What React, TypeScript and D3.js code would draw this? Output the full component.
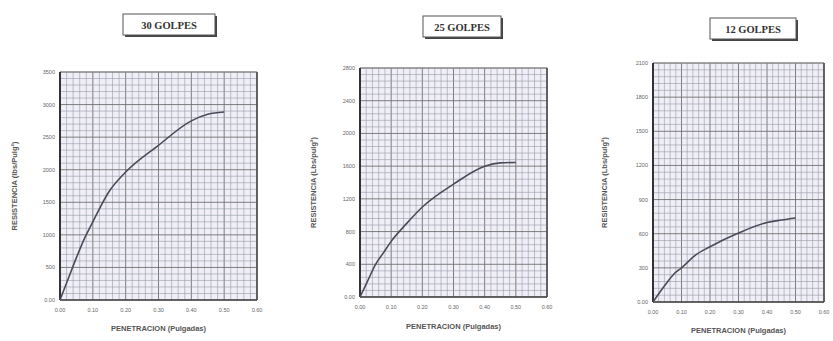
import React from "react";
import * as d3 from "d3";

// ---- data ----
const penetration = [0, 0.025, 0.05, 0.075, 0.1, 0.15, 0.2, 0.3, 0.4, 0.45, 0.5];
const resist30 = [0, 325, 650, 950, 1200, 1670, 1965, 2375, 2750, 2850, 2885];
const resist25 = [0, 200, 400, 540, 680, 900, 1100, 1380, 1600, 1640, 1645];
const resist12 = [0, 90, 174, 250, 300, 414, 486, 606, 699, 720, 738];

const xTicks = [0, 0.1, 0.2, 0.3, 0.4, 0.5, 0.6];
const xTickLabels = ["0.00", "0.10", "0.20", "0.30", "0.40", "0.50", "0.60"];
const yTicks30 = [0, 500, 1000, 1500, 2000, 2500, 3000, 3500];
const yTicks25 = [0, 400, 800, 1200, 1600, 2000, 2400, 2800];
const yTicks12 = [0, 300, 600, 900, 1200, 1500, 1800, 2100];

const titles = ["30 GOLPES", "25 GOLPES", "12 GOLPES"];
const yTitles = ["RESISTENCIA (lbs/Pulg²)", "RESISTENCIA (Lbs/pulg²)", "RESISTENCIA (Lbs/pulg²)"];
const xTitle = "PENETRACION (Pulgadas)";

type Layout = {
  l: number; r: number; t: number; b: number;
  bx: number; by: number; bw: number; bh: number;
  ytx: number; xty: number;
};

const layouts: Layout[] = [
  { l: 60, r: 257, t: 72, b: 300, bx: 123, by: 14, bw: 92, bh: 21, ytx: 17, xty: 331 },
  { l: 360, r: 547, t: 68, b: 297, bx: 423, by: 16, bw: 78, bh: 21, ytx: 316, xty: 329 },
  { l: 653, r: 824, t: 63, b: 302, bx: 710, by: 18, bw: 86, bh: 21, ytx: 607, xty: 333 },
];

function Panel({ lay, values, yTicks, title, yTitle }: { lay: Layout; values: number[]; yTicks: number[]; title: string; yTitle: string }) {
  const x = d3.scaleLinear().domain([0, 0.6]).range([lay.l, lay.r]);
  const y = d3.scaleLinear().domain([0, yTicks[yTicks.length - 1]]).range([lay.b, lay.t]);
  const minorX = d3.range(0, 31).map((i) => (i * 0.6) / 30);
  const yMax = yTicks[yTicks.length - 1];
  const minorY = d3.range(0, 36).map((i) => (i * yMax) / 35);
  const line = d3
    .line<number>()
    .x((_, i) => x(penetration[i]))
    .y((d) => y(d))
    .curve(d3.curveMonotoneX);
  const fmtY = (v: number) => (v === 0 ? "0.00" : String(v));
  const cx = (lay.l + lay.r) / 2;
  const cy = (lay.t + lay.b) / 2;
  return (
    <g>
      {/* title box */}
      <rect x={lay.bx + 2} y={lay.by + 2} width={lay.bw} height={lay.bh} fill="#444" />
      <rect x={lay.bx} y={lay.by} width={lay.bw} height={lay.bh} fill="#fff" stroke="#555" strokeWidth={1} />
      <text x={lay.bx + lay.bw / 2} y={lay.by + lay.bh / 2 + 4} textAnchor="middle" fontFamily="Liberation Serif, serif" fontWeight="bold" fontSize={10.5} fill="#333">
        {title}
      </text>
      {/* plot background */}
      <rect x={lay.l} y={lay.t} width={lay.r - lay.l} height={lay.b - lay.t} fill="#f0eff7" />
      {minorX.map((v, i) => (
        <line key={"gx" + i} x1={x(v)} x2={x(v)} y1={lay.t} y2={lay.b} stroke={i % 5 === 0 ? "#707070" : "#959aa6"} strokeWidth={i % 5 === 0 ? 0.9 : 0.6} />
      ))}
      {minorY.map((v, i) => (
        <line key={"gy" + i} x1={lay.l} x2={lay.r} y1={y(v)} y2={y(v)} stroke={i % 5 === 0 ? "#707070" : "#959aa6"} strokeWidth={i % 5 === 0 ? 0.9 : 0.6} />
      ))}
      {/* frame */}
      <line x1={lay.l} x2={lay.r} y1={lay.t} y2={lay.t} stroke="#888" strokeWidth={1} />
      <line x1={lay.l} x2={lay.l} y1={lay.t} y2={lay.b} stroke="#333" strokeWidth={2} />
      <line x1={lay.r} x2={lay.r} y1={lay.t} y2={lay.b} stroke="#444" strokeWidth={1.5} />
      <line x1={lay.l} x2={lay.r} y1={lay.b} y2={lay.b} stroke="#444" strokeWidth={1.5} />
      {/* curve */}
      <path d={line(values) || ""} fill="none" stroke="#4a4a5a" strokeWidth={1.6} />
      {/* y ticks */}
      {yTicks.map((v, i) => (
        <text key={"yt" + i} x={lay.l - 5} y={y(v) + 2} textAnchor="end" fontFamily="Liberation Sans, Arial, sans-serif" fontSize={5.5} fill="#666">
          {fmtY(v)}
        </text>
      ))}
      {/* x ticks */}
      {xTicks.map((v, i) => (
        <text key={"xt" + i} x={x(v)} y={lay.b + 12} textAnchor="middle" fontFamily="Liberation Sans, Arial, sans-serif" fontSize={5.5} fill="#666">
          {xTickLabels[i]}
        </text>
      ))}
      <text x={cx} y={lay.xty} textAnchor="middle" fontFamily="Liberation Sans, Arial, sans-serif" fontSize={7.5} fontWeight="bold" fill="#555">
        {xTitle}
      </text>
      <text transform={`translate(${lay.ytx},${cy}) rotate(-90)`} textAnchor="middle" fontFamily="Liberation Sans, Arial, sans-serif" fontSize={7.5} fontWeight="bold" fill="#555">
        {yTitle}
      </text>
    </g>
  );
}

export default function App() {
  const series = [resist30, resist25, resist12];
  const ticks = [yTicks30, yTicks25, yTicks12];
  return (
    <svg width={833} height={341} style={{ position: "absolute", left: 0, top: 0, background: "#fff" }}>
      <rect width={833} height={341} fill="#fff" />
      {layouts.map((lay, i) => (
        <Panel key={i} lay={lay} values={series[i]} yTicks={ticks[i]} title={titles[i]} yTitle={yTitles[i]} />
      ))}
    </svg>
  );
}
